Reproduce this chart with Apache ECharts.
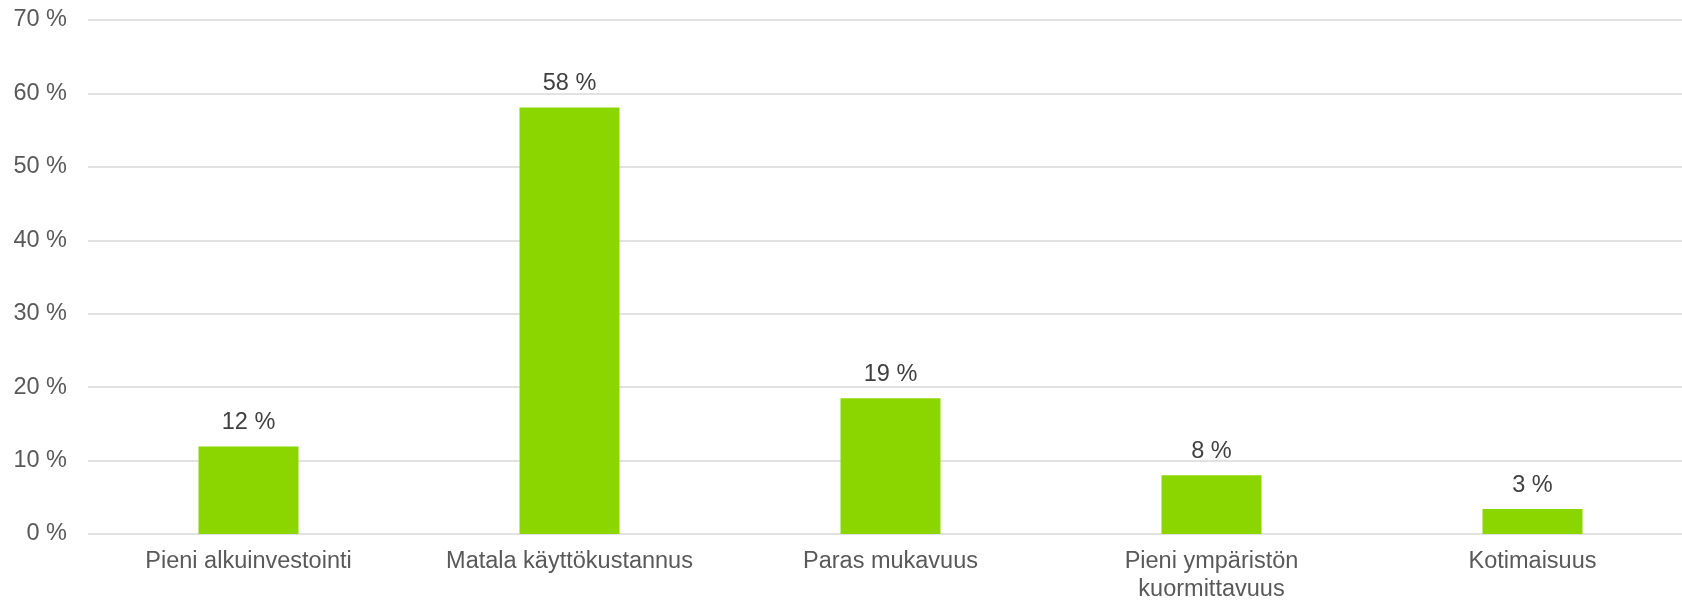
<!DOCTYPE html>
<html>
<head>
<meta charset="utf-8">
<script src="https://cdn.jsdelivr.net/npm/echarts@6/dist/echarts.min.js"></script>
<style>
  html, body { margin: 0; padding: 0; background: #fff; }
  #chart { width: 1682px; height: 600px; }
</style>
</head>
<body>
<div id="chart"></div>
<script>
// kategoriat ja osuudet (%)
const categories = ['Pieni alkuinvestointi', 'Matala käyttökustannus', 'Paras mukavuus', 'Pieni ympäristön\nkuormittavuus', 'Kotimaisuus']
const shares = [11.9, 58.1, 18.5, 8.0, 3.4]
const yTicks = [0, 10, 20, 30, 40, 50, 60, 70]

const font = 'Liberation Sans, Arial, sans-serif'
const myChart = echarts.init(document.getElementById('chart'))

let option = {
  animation: false,
  grid: [
    // taustaviivat koko leveydelle
    { left: 88, right: 0, top: 20, height: 514, outerBoundsMode: 'none', containLabel: false },
    // pylväät (akseli jatkuu hieman reunan yli)
    { left: 88, width: 1605, top: 20, height: 514, outerBoundsMode: 'none', containLabel: false }
  ],
  xAxis: [
    { gridIndex: 0, type: 'category', data: categories, show: false },
    {
      gridIndex: 1,
      type: 'category',
      data: categories,
      axisLine: { show: false },
      axisTick: { show: false },
      axisLabel: {
        color: '#595959',
        fontFamily: font,
        fontSize: 23.5,
        lineHeight: 28,
        margin: 14,
        interval: 0
      }
    }
  ],
  yAxis: [
    {
      gridIndex: 0,
      type: 'value',
      min: yTicks[0],
      max: yTicks[yTicks.length - 1],
      interval: 10,
      axisLine: { show: false },
      axisTick: { show: false },
      splitLine: { lineStyle: { color: '#d9d9d9', width: 1.5 } },
      axisLabel: {
        color: '#595959',
        fontFamily: font,
        fontSize: 23.5,
        margin: 21,
        formatter: v => v + ' %'
      }
    },
    { gridIndex: 1, type: 'value', min: 0, max: 70, show: false }
  ],
  series: [{
    type: 'bar',
    xAxisIndex: 1,
    yAxisIndex: 1,
    data: shares,
    barWidth: 100,
    itemStyle: { color: '#8cd600' },
    label: {
      show: true,
      position: 'top',
      distance: 12,
      color: '#404040',
      fontFamily: font,
      fontSize: 23.5,
      formatter: e => Math.round(e.value) + ' %'
    }
  }]
}
myChart.setOption(option)
</script>
</body>
</html>
